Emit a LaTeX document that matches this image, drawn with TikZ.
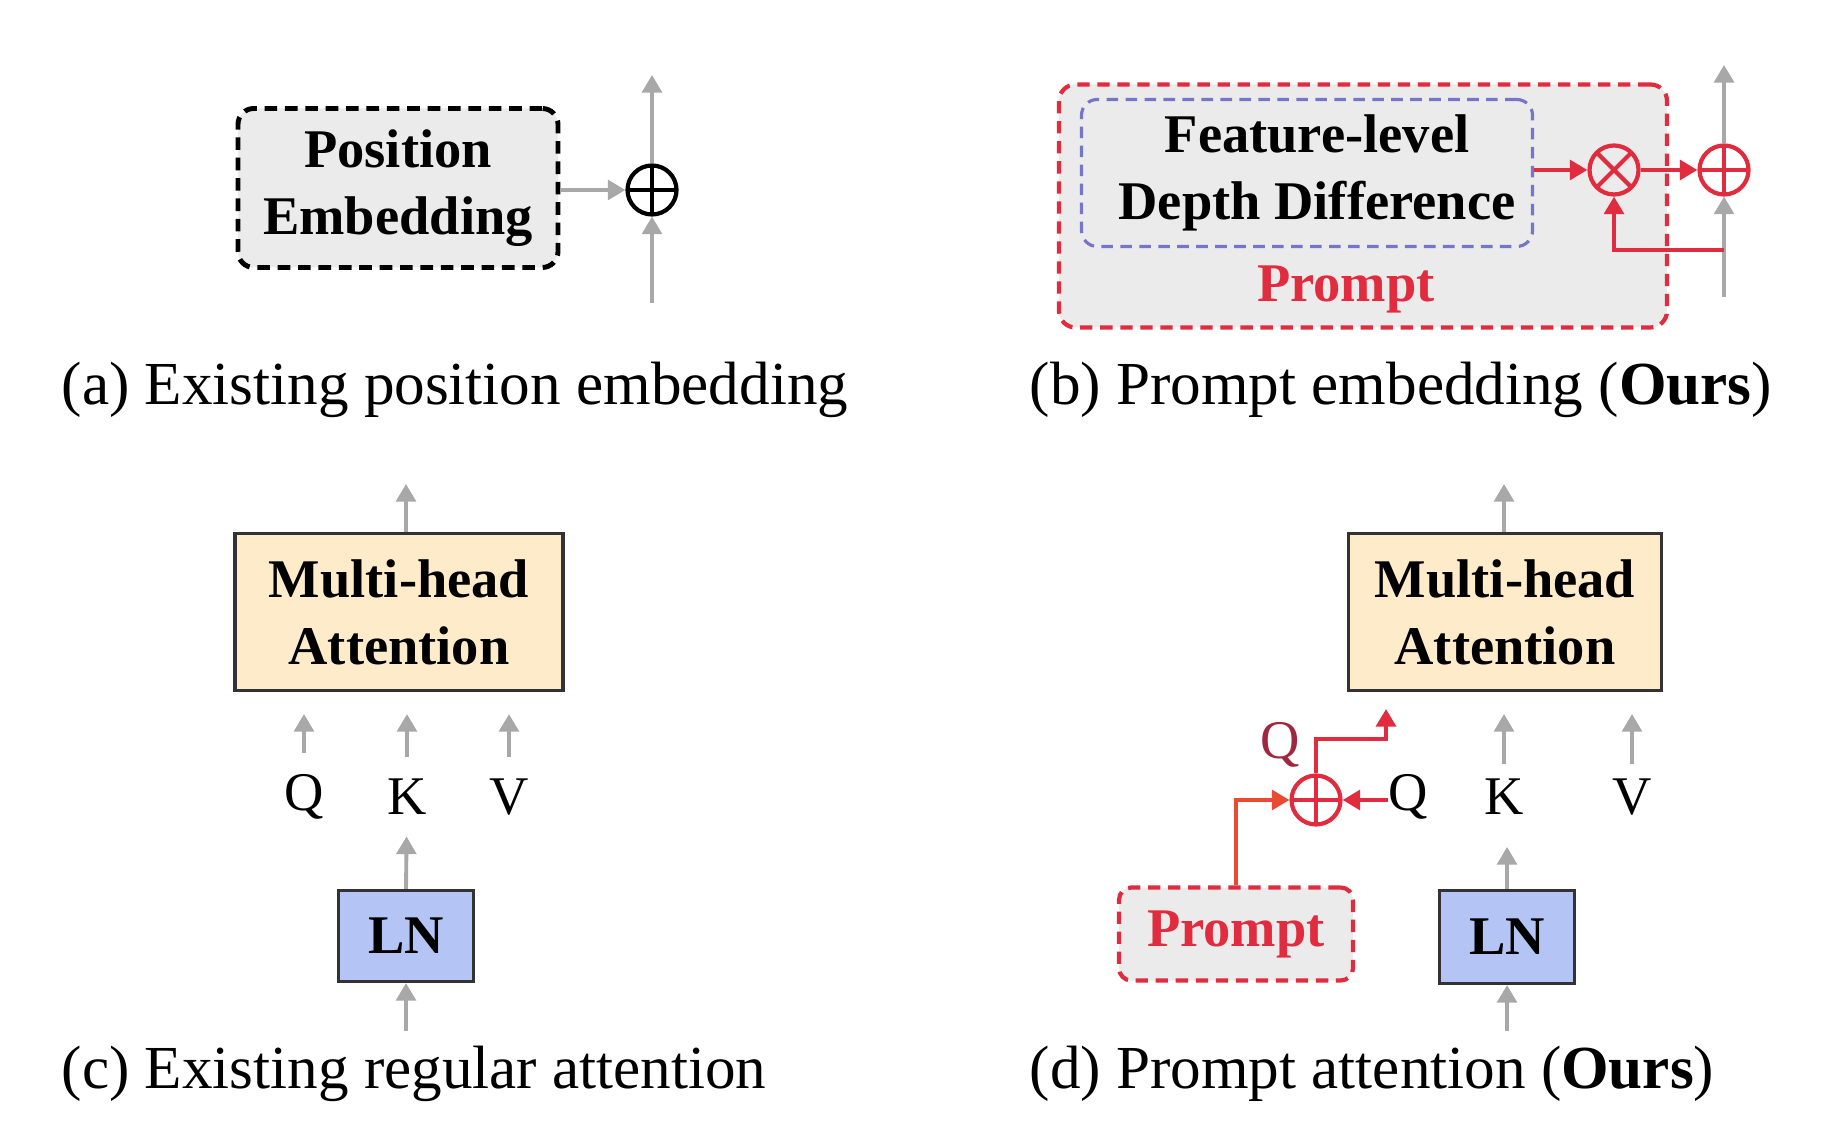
\documentclass[tikz,border=0pt]{standalone}
\usepackage{fontspec}
\setmainfont{Liberation Serif}
\usetikzlibrary{arrows.meta}

\definecolor{arrgray}{RGB}{168,168,168}
\definecolor{pred}{RGB}{224,44,62}
\definecolor{qred}{RGB}{160,40,62}
\definecolor{porange}{RGB}{232,74,50}
\definecolor{pblue}{RGB}{118,118,200}
\definecolor{boxgray}{RGB}{235,235,235}
\definecolor{mhafill}{RGB}{253,235,201}
\definecolor{lnfill}{RGB}{180,197,245}

\tikzset{
  lbl/.style={font=\fontsize{15.5}{19}\selectfont\bfseries, align=center, inner sep=0},
  blk/.style={lbl, draw=black!80, line width=0.9pt},
  qkv/.style={font=\fontsize{15.5}{19}\selectfont, inner sep=0},
  subcap/.style={font=\fontsize{17.4}{21}\selectfont, anchor=base west, inner sep=0},
  garrow/.style={draw=arrgray, line width=1.1pt, -{Triangle[width=5.6pt,length=5pt]}},
  rarrow/.style={draw=pred, line width=1.2pt, -{Triangle[width=5.6pt,length=5pt]}},
  oplus/.style={circle, draw=#1, line width=1.2pt, minimum size=4.9mm, inner sep=0,
    path picture={\draw[#1, line width=1.2pt]
      (path picture bounding box.north) -- (path picture bounding box.south)
      (path picture bounding box.west) -- (path picture bounding box.east);}},
  oplus/.default=black,
  otimes/.style={circle, draw=#1, line width=1.2pt, minimum size=4.9mm, inner sep=0,
    path picture={\draw[#1, line width=1.2pt]
      (path picture bounding box.north west) -- (path picture bounding box.south east)
      (path picture bounding box.south west) -- (path picture bounding box.north east);}},
  otimes/.default=pred
}

\begin{document}
\begin{tikzpicture}[x=0.1mm, y=-0.1mm]
  \useasboundingbox (0,0) rectangle (1838,1126);

  % (a)
  \node[lbl, draw=black, fill=boxgray, line width=1.4pt, dash pattern=on 3.6pt off 2.2pt,
        rounded corners=4.5pt, minimum width=32mm, minimum height=15.9mm] (pe) at (398,188) {Position\\Embedding};
  \node[oplus] (adda) at (652,190) {};
  \coordinate (atop) at (652,75);
  \coordinate (abot) at (652,303);
  \draw[garrow] (abot) -- (adda);
  \draw[garrow] (adda) -- (atop);
  \draw[garrow] (pe.east |- adda) -- (adda.west);
  \node[subcap] (capa) at (61,405) {(a) Existing position embedding};

  % (b)
  \node[draw=pred, fill=boxgray, line width=1.2pt, dash pattern=on 3.5pt off 2.2pt,
        rounded corners=4.7pt, minimum width=60.8mm, minimum height=24.3mm] (prm) at (1363,206) {};
  \node[lbl, draw=pblue, line width=0.9pt, dash pattern=on 3.3pt off 2.1pt, rounded corners=4.5pt,
        minimum width=45.1mm, minimum height=14.7mm] (fdd) at (1307,173) {\hspace*{2mm}Feature-level\\\hspace*{2mm}Depth Difference};
  \node[lbl, text=pred] (prmtxt) at (1346,289) {Prompt};
  \node[otimes] (mul) at (1614,170) {};
  \node[oplus=pred] (addb) at (1724,170) {};
  \coordinate (btop) at (1724,65);
  \coordinate (bbot) at (1724,297);
  \coordinate (tap) at (1724,250);
  \draw[garrow] (bbot) -- (addb);
  \draw[garrow] (addb) -- (btop);
  \draw[rarrow] (fdd.east |- mul) -- (mul.west);
  \draw[rarrow] (mul) -- (addb);
  \draw[rarrow] (tap) -| (mul.south);
  \node[subcap] (capb) at (1029,405) {(b) Prompt embedding (\textbf{Ours})};

  % (c)
  \node[blk, fill=mhafill, minimum width=32.8mm, minimum height=15.7mm] (mhac) at (399,612) {Multi-head\\Attention};
  \coordinate (ctop) at (406,484);
  \draw[garrow] (mhac.north -| ctop) -- (ctop);
  \node[qkv] (qc) at (304,797) {Q};
  \node[qkv] (kc) at (407,797) {K};
  \node[qkv] (vc) at (509,797) {V};
  \foreach \n in {qc,kc,vc}
    \draw[garrow, shorten <=2.1mm, shorten >=2.2mm] (\n) -- (\n |- mhac.south);
  \node[blk, fill=lnfill, minimum width=13.5mm, minimum height=9.1mm] (lnc) at (406,936) {LN};
  \coordinate (cbot) at (406,1031);
  \draw[garrow, shorten >=2.1mm] (lnc.north) -- (kc);
  \draw[garrow] (cbot) -- (lnc.south);
  \node[subcap] (capc) at (61,1088) {(c) Existing regular attention};

  % (d)
  \node[blk, fill=mhafill, minimum width=31.3mm, minimum height=15.7mm] (mhad) at (1505,612) {Multi-head\\Attention};
  \coordinate (dtop) at (1504,484);
  \draw[garrow] (mhad.north -| dtop) -- (dtop);
  \node[qkv] (qd) at (1408,797) {Q};
  \node[qkv] (kd) at (1504,797) {K};
  \node[qkv] (vd) at (1632,797) {V};
  \foreach \n in {kd,vd}
    \draw[garrow, shorten <=1.4mm, shorten >=2.2mm] (\n) -- (\n |- mhad.south);
  \node[oplus=pred] (addd) at (1316,800) {};
  \node[qkv, text=qred] (qr) at (1280,745) {Q};
  \coordinate (qin) at (1386,709);
  \draw[rarrow] (qd.west |- addd) -- (addd.east);
  \draw[rarrow] (addd.north) -- ++(0,-34) -| (qin);
  \node[lbl, text=pred, draw=pred, fill=boxgray, line width=1.2pt, dash pattern=on 3.5pt off 2.2pt,
        rounded corners=3.5pt, minimum width=23.4mm, minimum height=9.3mm] (prmd) at (1236,934) {Prompt};
  \draw[rarrow, draw=porange] (prmd.north) |- (addd.west);
  \node[blk, fill=lnfill, minimum width=13.5mm, minimum height=9.3mm] (lnd) at (1507,937) {LN};
  \coordinate (dbot) at (1507,1031);
  \draw[garrow, shorten >=5mm] (lnd.north) -- (lnd.north |- kd);
  \draw[garrow] (dbot) -- (lnd.south);
  \node[subcap] (capd) at (1029,1088) {(d) Prompt attention (\textbf{Ours})};
\end{tikzpicture}
\end{document}
